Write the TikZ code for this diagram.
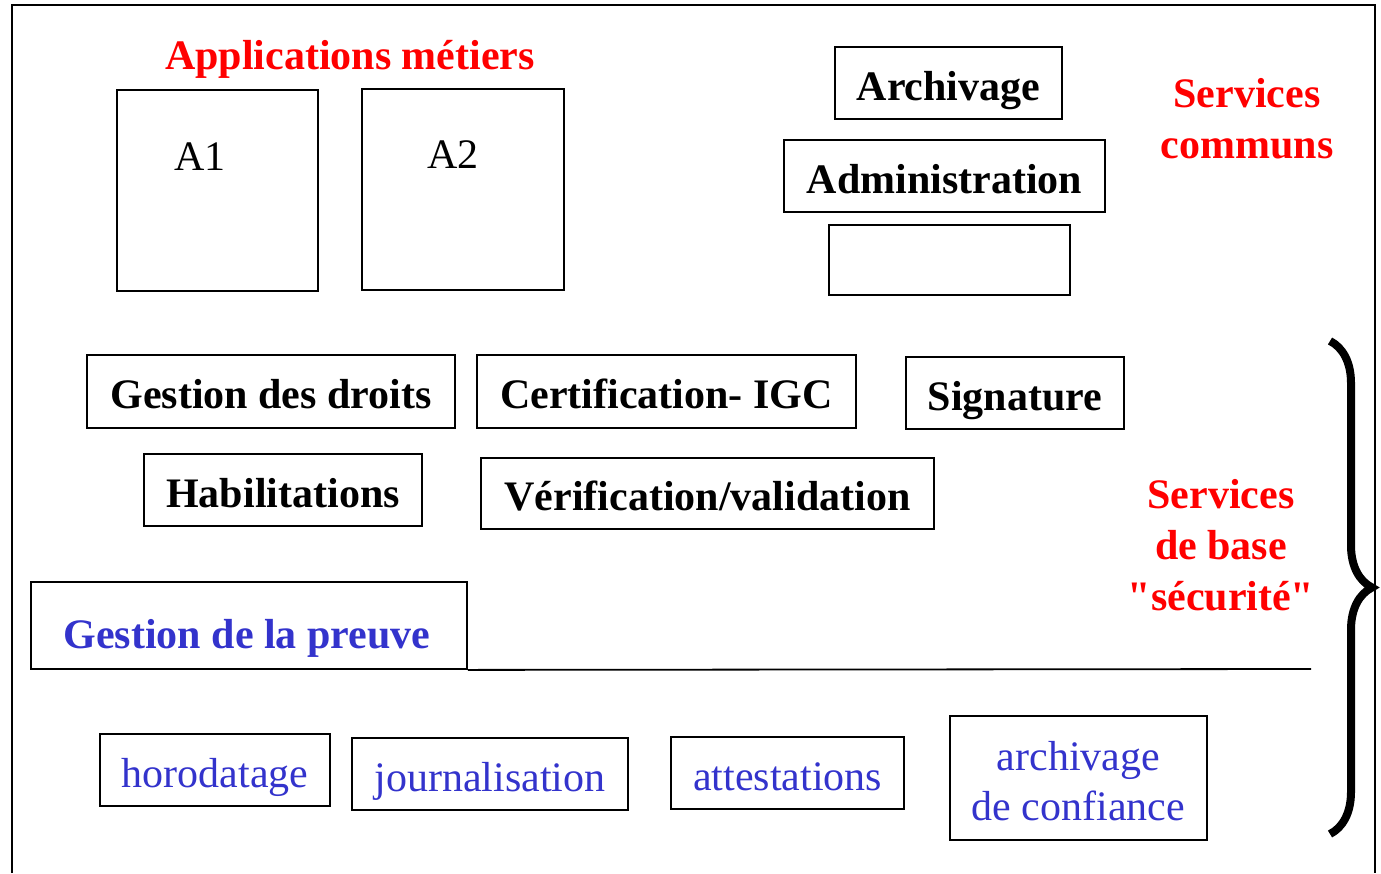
\documentclass[tikz,border=0pt]{standalone}
\usepackage{fontspec}
\setmainfont{Liberation Serif}[Ligatures=TeXOff]
\usetikzlibrary{decorations.pathreplacing}
\definecolor{titlered}{RGB}{255,0,0}
\definecolor{proofblue}{RGB}{51,51,204}
\tikzset{box/.style={draw,line width=1.8pt,inner sep=0pt}}
\tikzset{boldtxt/.style={font=\fontsize{42}{51}\selectfont\bfseries}}
\tikzset{plaintxt/.style={font=\fontsize{42}{50}\selectfont}}
\tikzset{fixline/.style={text height=34pt,text depth=0pt}}
\tikzset{redtitle/.style={boldtxt,text=titlered,align=center}}

\begin{document}
\begin{tikzpicture}[x=1pt,y=-1pt]
    \useasboundingbox (0,0) rectangle (1381,873);
    % outer frame, open at the bottom
    \coordinate (fbl) at (12,873);
    \coordinate (ftr) at (1375,5);
    \coordinate (fbr) at (1375,873);
    \draw[line width=1.8pt] (fbl) |- (ftr) -- (fbr);
    % applications
    \node[redtitle] (apps) at (350,59) {Applications métiers};
    \node[box,minimum width=201pt,minimum height=201pt] (a1) at (217.5,190.5) {};
    \node[plaintxt,fixline] (a1t) at (200,153) {A1};
    \node[box,minimum width=202pt,minimum height=201pt] (a2) at (463,189.5) {};
    \node[plaintxt,fixline] (a2t) at (453,151) {A2};
    % services communs
    \node[box,boldtxt,fixline,minimum width=227pt,minimum height=72pt] (arch) at (948.5,83) {Archivage};
    \node[box,boldtxt,fixline,minimum width=321pt,minimum height=72pt] (admin) at (944.5,176) {Administration};
    \node[box,minimum width=241pt,minimum height=70pt] (other) at (949.5,260) {};
    \node[redtitle] (communs) at (1247,119) {Services\\communs};
    % services de base
    \node[box,boldtxt,fixline,minimum width=368pt,minimum height=73pt] (droits) at (271,391.5) {Gestion des droits};
    \node[box,boldtxt,fixline,minimum width=379pt,minimum height=73pt] (igc) at (666.5,391.5) {Certification- IGC};
    \node[box,boldtxt,fixline,minimum width=218pt,minimum height=72pt] (sign) at (1015,393) {Signature};
    \node[box,boldtxt,fixline,minimum width=278pt,minimum height=72pt] (habil) at (283,490) {Habilitations};
    \node[box,boldtxt,fixline,minimum width=453pt,minimum height=71pt] (verif) at (707.5,493.5) {Vérification/validation};
    \node[redtitle] (base) at (1221,545) {Services\\de base\\"sécurité"};
    % gestion de la preuve
    \node[box,minimum width=436pt,minimum height=87pt] (preuve) at (249,625.5) {};
    \node[boldtxt,fixline,text=proofblue] (preuvet) at (247,631) {Gestion de la preuve};
    \coordinate (lineend) at (1311,669);
    \draw[line width=1.8pt] (preuve.south east) -- (lineend);
    \node[box,plaintxt,fixline,text=proofblue,minimum width=230pt,minimum height=72pt] (horo) at (215,770) {horodatage};
    \node[box,plaintxt,fixline,text=proofblue,minimum width=276pt,minimum height=72pt] (journ) at (490,774) {journalisation};
    \node[box,plaintxt,fixline,text=proofblue,minimum width=233pt,minimum height=72pt] (attest) at (787.5,773) {attestations};
    \node[box,minimum width=257pt,minimum height=124pt] (archconf) at (1078.5,778) {};
    \node[plaintxt,text=proofblue,align=center] (archconft) at (1078.5,781) {archivage\\de confiance};
    % brace
    \coordinate (btop) at (1330,341);
    \coordinate (bbot) at (1330,834);
    \draw[line width=8pt,decorate,decoration={brace,amplitude=42pt}] (btop) -- (bbot);
\end{tikzpicture}
\end{document}
